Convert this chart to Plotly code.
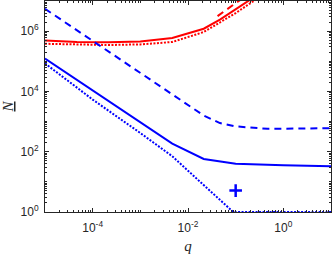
import numpy as np
import plotly.graph_objects as go

# log10(q) positions and log10(N) values
blue_solid_lq = [-5, -4, -3, -2.33, -1.67, -1, 0, 1]
blue_solid_lN = [5.09, 4.03, 2.97, 2.27, 1.76, 1.6, 1.55, 1.52]

blue_dot_lq = [-5, -4, -3, -2.33, -1.8, -1.05, 0, 1]
blue_dot_lN = [4.93, 3.73, 2.62, 1.85, 1.08, 0, 0, 0]

blue_dash_lq = [-5, -4, -3, -2, -1.67, -1.33, -1, -0.33, 0, 1]
blue_dash_lN = [6.74, 5.68, 4.62, 3.55, 3.2, 2.95, 2.84, 2.76, 2.76, 2.78]

red_solid_lq = [-5, -4.33, -3.67, -3, -2.33, -1.67, -1.33, -1, -0.67]
red_solid_lN = [5.69, 5.64, 5.63, 5.66, 5.77, 6.08, 6.38, 6.72, 7.07]

red_dot_lq = [-5, -4.33, -3.67, -3, -2.33, -1.67, -1.33, -1, -0.67, -0.33]
red_dot_lN = [5.58, 5.55, 5.54, 5.56, 5.64, 5.97, 6.28, 6.6, 6.95, 7.3]

red_dash_lq = [-1.38, -1, -0.67]
red_dash_lN = [6.5, 6.92, 7.3]

marker_lq = [-1]
marker_lN = [0.71]

x_ticks = [1e-4, 1e-2, 1e0]
x_ticktext = ["10<sup>-4</sup>", "10<sup>-2</sup>", "10<sup>0</sup>"]
y_ticks = [1e0, 1e2, 1e4, 1e6]
y_ticktext = ["10<sup>0</sup>", "10<sup>2</sup>", "10<sup>4</sup>", "10<sup>6</sup>"]

def p(v):
    return [10 ** a for a in v]

BLUE = "#0000FF"
RED = "#FF0000"

fig = go.Figure()
fig.add_trace(go.Scatter(x=p(red_dash_lq), y=p(red_dash_lN), mode="lines",
                         line=dict(color=RED, width=2, dash="7px,5px")))
fig.add_trace(go.Scatter(x=p(red_dot_lq), y=p(red_dot_lN), mode="lines",
                         line=dict(color=RED, width=2, dash="2px,1.5px")))
fig.add_trace(go.Scatter(x=p(red_solid_lq), y=p(red_solid_lN), mode="lines",
                         line=dict(color=RED, width=2)))
fig.add_trace(go.Scatter(x=p(blue_dash_lq), y=p(blue_dash_lN), mode="lines",
                         line=dict(color=BLUE, width=2, dash="7px,5px")))
fig.add_trace(go.Scatter(x=p(blue_dot_lq), y=p(blue_dot_lN), mode="lines",
                         line=dict(color=BLUE, width=2, dash="2px,1.5px")))
fig.add_trace(go.Scatter(x=p(blue_solid_lq), y=p(blue_solid_lN), mode="lines",
                         line=dict(color=BLUE, width=2)))
fig.add_trace(go.Scatter(x=p(marker_lq), y=p(marker_lN), mode="markers",
                         marker=dict(symbol="cross-thin", size=9,
                                     line=dict(color=BLUE, width=2.5))))

def minor_vals(lo, hi):
    vals = []
    for e in range(lo, hi):
        for k in range(1, 10):
            vals.append(k * 10.0 ** e)
    vals.append(10.0 ** hi)
    return vals

axis_common = dict(
    type="log", showgrid=False, zeroline=False, automargin=False,
    showline=True, linecolor="#262626", linewidth=1, mirror="allticks",
    ticks="inside", ticklen=4, tickcolor="#262626",
    tickfont=dict(family="Liberation Sans, Arial", size=12, color="#262626"),
)

fig.update_xaxes(
    range=[-5, 1], tickmode="array", tickvals=x_ticks, ticktext=x_ticktext,
    ticklabelstandoff=5,
    minor=dict(tickmode="array", tickvals=minor_vals(-5, 1), ticks="inside",
               ticklen=2, tickcolor="#262626"),
    title=dict(text="<i>q</i>", font=dict(family="Liberation Serif", size=15,
                                            color="#262626")),
    **axis_common)
fig.update_yaxes(
    range=[0, 7], tickmode="array", tickvals=y_ticks, ticktext=y_ticktext,
    ticklabelstandoff=3,
    minor=dict(tickmode="array", tickvals=minor_vals(0, 7), ticks="inside",
               ticklen=2, tickcolor="#262626"),
    title=dict(text="<u><i>N</i></u>", font=dict(family="Liberation Serif", size=15,
                                                   color="#262626")),
    **axis_common)

fig.update_layout(
    width=332, height=254, showlegend=False,
    margin=dict(l=45, r=1, t=1, b=42),
    plot_bgcolor="white", paper_bgcolor="white",
)

fig.write_html("out.html", config={"displayModeBar": False},
               post_script="document.body.style.margin='0';document.body.style.overflow='hidden';")
